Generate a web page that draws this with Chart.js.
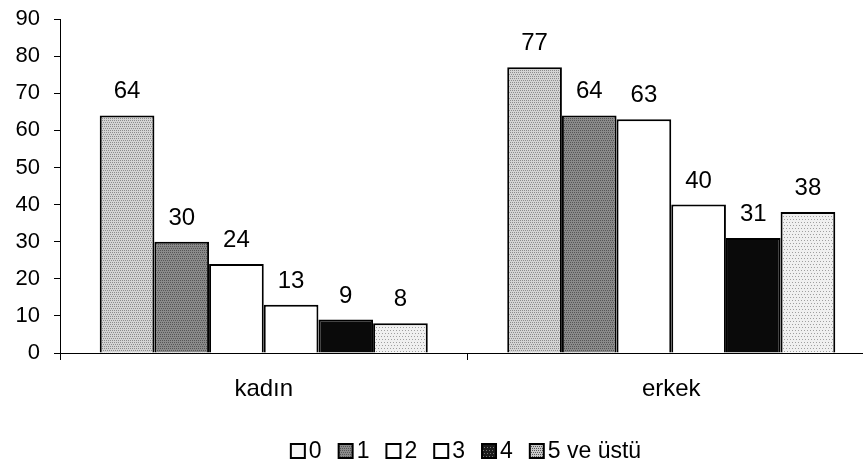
<!DOCTYPE html>
<html>
<head>
<meta charset="utf-8">
<script src="https://cdn.jsdelivr.net/npm/chart.js@4"></script>
<style>
    html, body { margin: 0; padding: 0; background: #fff; overflow: hidden; }
    #wrap { width: 875px; height: 466px; }
</style>
</head>
<body>
<div id="wrap"><canvas id="chart" width="875" height="466"></canvas></div>
<script>
const categories = ['kadın', 'erkek'];
const seriesLabels = ['0', '1', '2', '3', '4', '5 ve üstü'];
const values0 = [64, 77];
const values1 = [30, 64];
const values2 = [24, 63];
const values3 = [13, 40];
const values4 = [9, 31];
const values5 = [8, 38];
const yTicks = [0, 10, 20, 30, 40, 50, 60, 70, 80, 90];

const FONT = '"Liberation Sans", Arial, sans-serif';

// small dotted textures to imitate the scanned stipple fills
function makePattern(base, dot, step) {
    const c = document.createElement('canvas');
    c.width = 6;
    c.height = 6;
    const g = c.getContext('2d');
    g.fillStyle = base;
    g.fillRect(0, 0, 6, 6);
    g.fillStyle = dot;
    for (let y = 0; y < 6; y += step) {
        for (let x = (y / step) % 2; x < 6; x += step) {
            g.fillRect(x, y, 1, 1);
        }
    }
    return g.createPattern(c, 'repeat');
}

const ctx = document.getElementById('chart').getContext('2d');
const fills = [
    makePattern('#d4d4d4', '#8c8c8c', 2),
    makePattern('#8a8a8a', '#555555', 2),
    '#ffffff',
    '#ffffff',
    '#0a0a0a',
    makePattern('#f0f0f0', '#a0a0a0', 3)
];
const legendFills = [
    '#f6f6f6',
    fills[1],
    '#ffffff',
    '#ffffff',
    makePattern('#1a1a1a', '#777777', 3),
    makePattern('#c8c8c8', '#555555', 2)
];
const allValues = [values0, values1, values2, values3, values4, values5];

const valueLabels = {
    id: 'valueLabels',
    afterDatasetsDraw(chart) {
        const c = chart.ctx;
        c.save();
        c.font = '24px ' + FONT;
        c.fillStyle = '#000';
        c.textAlign = 'center';
        c.textBaseline = 'alphabetic';
        chart.data.datasets.forEach((ds, i) => {
            chart.getDatasetMeta(i).data.forEach((bar, j) => {
                c.fillText(ds.data[j], bar.x, bar.y - 17);
            });
        });
        c.restore();
    }
};

// legend drawn by hand: the box sits right next to its text like in the original
const bottomLegend = {
    id: 'bottomLegend',
    afterDraw(chart) {
        const c = chart.ctx;
        const box = 14, gap = 4, spacing = 17;
        const y = chart.height - 15;
        c.save();
        c.font = '23px ' + FONT;
        const widths = chart.data.datasets.map(ds => box + gap + c.measureText(ds.label).width);
        const total = widths.reduce((a, b) => a + b, 0) + spacing * (widths.length - 1);
        let x = 466 - total / 2;
        chart.data.datasets.forEach((ds, i) => {
            c.fillStyle = legendFills[i];
            c.fillRect(x, y - box / 2, box, box);
            c.strokeStyle = '#000';
            c.lineWidth = 2;
            c.strokeRect(x, y - box / 2, box, box);
            c.fillStyle = '#000';
            c.textAlign = 'left';
            c.textBaseline = 'middle';
            c.fillText(ds.label, x + box + gap, y + 1);
            x += widths[i] + spacing;
        });
        c.restore();
    }
};

new Chart(ctx, {
    type: 'bar',
    data: {
        labels: categories,
        datasets: seriesLabels.map((label, i) => ({
            label: label,
            data: allValues[i],
            backgroundColor: fills[i],
            borderColor: '#000',
            borderWidth: 2,
            categoryPercentage: 0.805,
            barPercentage: 1
        }))
    },
    options: {
        responsive: false,
        animation: false,
        layout: { padding: { top: 19, right: 0, bottom: 0, left: 0 } },
        plugins: {
            tooltip: { enabled: false },
            legend: { display: false }
        },
        scales: {
            x: {
                grid: {
                    offset: true,
                    drawOnChartArea: false,
                    color: '#000',
                    tickLength: 7
                },
                border: { color: '#000', width: 1 },
                ticks: {
                    color: '#000',
                    padding: 15,
                    font: { family: FONT, size: 24 }
                },
                afterFit: (scale) => { scale.height = 113; }
            },
            y: {
                min: 0,
                max: 90,
                afterBuildTicks: (scale) => { scale.ticks = yTicks.map(v => ({ value: v })); },
                grid: {
                    drawOnChartArea: false,
                    color: '#000',
                    tickLength: 6
                },
                border: { color: '#000', width: 1 },
                ticks: {
                    color: '#000',
                    padding: 14,
                    font: { family: FONT, size: 22 }
                },
                afterFit: (scale) => {
                    scale.width = 60;
                    scale.paddingTop = 0;
                    scale.paddingBottom = 0;
                }
            }
        }
    },
    plugins: [valueLabels, bottomLegend]
});
</script>
</body>
</html>
